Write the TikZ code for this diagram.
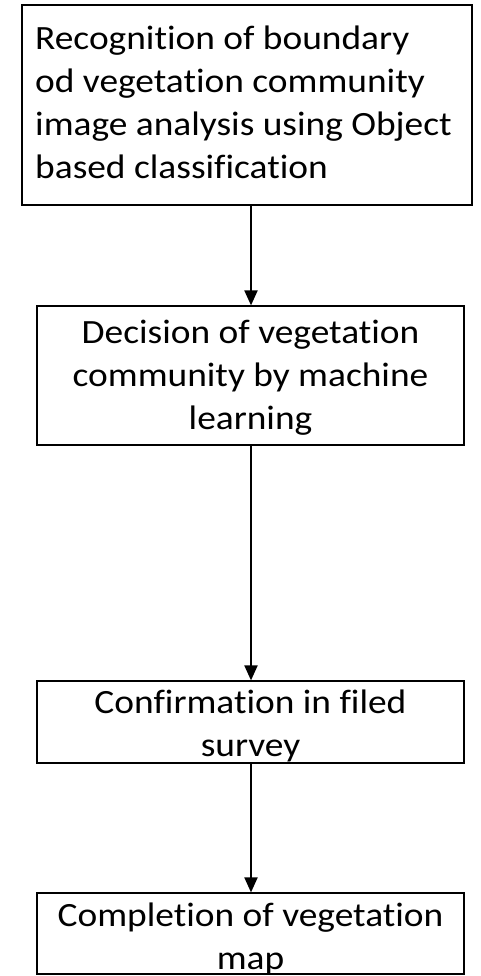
\documentclass[tikz,border=0pt]{standalone}
\usepackage{fontspec}
\setmainfont[Ligatures=NoCommon, FakeStretch=1.1]{Carlito}
\usetikzlibrary{arrows.meta}

\tikzset{
  stepbox/.style={draw, line width=1.2pt, inner sep=0pt},
  steptext/.style={font=\fontsize{34}{43}\selectfont, inner sep=0pt},
  flow/.style={line width=2pt, -{Triangle[length=15pt,width=13pt]}}
}

\begin{document}
\begin{tikzpicture}[x=1pt,y=-1pt]
  \useasboundingbox (0,0) rectangle (481,976);
  % boxes
  \node[stepbox, minimum width=450, minimum height=200] (recog) at (247,105) {};
  \node[stepbox, minimum width=427, minimum height=139] (decis) at (250.5,375.5) {};
  \node[stepbox, minimum width=427, minimum height=82] (confirm) at (250.5,722) {};
  \node[stepbox, minimum width=427, minimum height=81] (complete) at (250.5,933.5) {};
  % texts (anchored at the baseline of their last line)
  \node[steptext, align=left, anchor=base west] at (35,179) {Recognition of boundary\\od vegetation community\\image analysis using Object\\based classification};
  \node[steptext, align=center, anchor=base] at (250.5,429) {Decision of vegetation\\community by machine\\learning};
  \node[steptext, align=center, anchor=base] at (250.5,756) {Confirmation in filed\\survey};
  \node[steptext, align=center, anchor=base] at (250.5,969) {Completion of vegetation\\map};
  % arrows
  \draw[flow] (recog.south -| 251,0) -- (decis.north -| 251,0);
  \draw[flow] (decis.south -| 251,0) -- (confirm.north -| 251,0);
  \draw[flow] (confirm.south -| 251,0) -- (complete.north -| 251,0);
\end{tikzpicture}
\end{document}
